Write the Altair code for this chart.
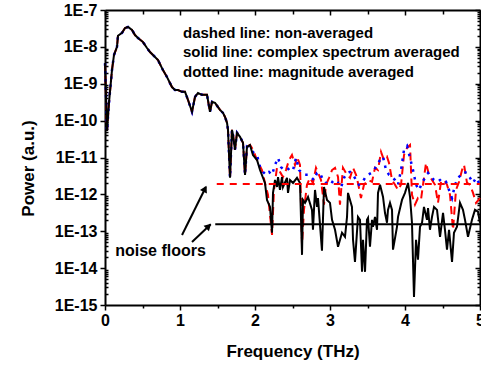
import altair as alt
import pandas as pd

# ---------------- data (frequency in THz, power as log10 value) ----------------
# common part where the three spectra coincide
sig_f = [0.000, 0.027, 0.053, 0.093, 0.120, 0.160, 0.173, 0.227, 0.267, 0.307, 0.360, 0.400,
         0.440, 0.507, 0.560, 0.600, 0.640, 0.707, 0.773, 0.827, 0.893, 0.933, 0.973, 1.027,
         1.067, 1.107, 1.160, 1.200, 1.240, 1.293, 1.360, 1.400, 1.427, 1.467, 1.533, 1.573,
         1.600, 1.627, 1.640, 1.667, 1.693, 1.707, 1.733, 1.760, 1.800, 1.840, 1.867, 1.893]
sig_e = [-8.44, -10.28, -9.52, -8.63, -8.22, -8.00, -7.70, -7.62, -7.49, -7.46, -7.54, -7.68,
         -7.76, -7.87, -8.03, -8.14, -8.22, -8.36, -8.63, -8.82, -9.09, -9.17, -9.17, -9.22,
         -9.22, -9.44, -9.76, -9.36, -9.25, -9.30, -9.30, -9.76, -9.49, -9.52, -9.71, -9.79,
         -9.90, -10.06, -10.25, -11.55, -10.25, -10.39, -10.79, -10.33, -10.44, -10.60, -11.47, -10.71]

# solid line: complex spectrum averaged
black_f = [1.933, 1.973, 2.027, 2.067, 2.133, 2.160, 2.200, 2.227, 2.240, 2.267,
           2.293, 2.307, 2.333, 2.360, 2.373, 2.427, 2.440, 2.467, 2.507, 2.560,
           2.600, 2.627, 2.640, 2.667, 2.707, 2.760, 2.773, 2.800, 2.827, 2.840,
           2.893, 2.920, 2.960, 3.000, 3.027, 3.067, 3.107, 3.160, 3.200, 3.227,
           3.240, 3.293, 3.307, 3.333, 3.373, 3.400, 3.427, 3.440, 3.467, 3.493,
           3.507, 3.533, 3.560, 3.573, 3.600, 3.627, 3.640, 3.667, 3.707, 3.733,
           3.760, 3.773, 3.800, 3.827, 3.840, 3.893, 3.907, 3.960, 4.000, 4.040,
           4.067, 4.093, 4.120, 4.147, 4.173, 4.200, 4.227, 4.253, 4.293, 4.307,
           4.333, 4.360, 4.387, 4.427, 4.467, 4.507, 4.533, 4.560, 4.587, 4.627,
           4.653, 4.693, 4.733, 4.773, 4.800, 4.840, 4.893, 4.933, 4.973, 5.000]
black_e = [-10.66, -10.93, -11.07, -11.34, -11.69, -12.15, -12.34, -13.04, -11.96, -11.61,
           -11.80, -11.53, -11.88, -11.53, -11.80, -11.55, -11.96, -11.61, -11.69, -11.55,
           -11.69, -13.64, -12.15, -12.23, -12.07, -12.42, -12.96, -11.88, -12.34, -12.10,
           -13.53, -11.80, -12.15, -12.23, -12.69, -12.96, -13.42, -13.04, -13.15, -12.61,
           -11.96, -12.34, -13.23, -13.83, -12.61, -12.69, -14.10, -13.23, -14.10, -12.69,
           -12.64, -13.42, -12.69, -12.88, -12.61, -12.96, -11.96, -11.74, -12.07, -12.50,
           -12.77, -12.42, -12.23, -12.42, -13.50, -12.88, -12.61, -12.15, -11.96, -11.69,
           -12.07, -12.77, -14.78, -13.23, -13.77, -12.88, -12.77, -12.34, -12.69, -12.37,
           -12.96, -12.61, -12.34, -12.42, -13.15, -12.50, -12.96, -13.50, -12.96, -13.83,
           -13.04, -12.88, -12.23, -12.42, -12.69, -13.15, -12.69, -12.42, -12.47, -12.77]

# dashed line: non-averaged
red_f = [1.933, 1.973, 2.027, 2.093, 2.133, 2.173, 2.200, 2.227, 2.253, 2.293,
         2.333, 2.373, 2.413, 2.453, 2.493, 2.533, 2.560, 2.600, 2.627, 2.653,
         2.693, 2.733, 2.773, 2.813, 2.853, 2.880, 2.920, 2.947, 2.987, 3.027,
         3.067, 3.107, 3.133, 3.173, 3.227, 3.267, 3.307, 3.347, 3.373, 3.413,
         3.453, 3.507, 3.560, 3.600, 3.640, 3.680, 3.720, 3.760, 3.787, 3.827,
         3.867, 3.907, 3.947, 3.987, 4.027, 4.067, 4.093, 4.133, 4.173, 4.213,
         4.240, 4.280, 4.320, 4.360, 4.400, 4.440, 4.480, 4.520, 4.560, 4.600,
         4.640, 4.680, 4.720, 4.760, 4.787, 4.827, 4.867, 4.907, 4.947, 5.000]
red_e = [-10.66, -10.79, -11.07, -11.34, -11.69, -12.01, -12.56, -13.10, -11.88, -11.28,
         -11.39, -11.53, -11.34, -11.07, -10.93, -11.20, -10.98, -11.20, -13.37, -12.42,
         -11.74, -11.55, -11.69, -11.28, -11.47, -11.61, -12.28, -11.74, -11.55, -11.34,
         -11.28, -11.53, -12.28, -11.28, -11.47, -11.55, -11.28, -11.47, -11.69, -12.10,
         -11.74, -11.61, -11.66, -11.28, -11.34, -10.85, -11.07, -10.98, -11.15, -11.61,
         -11.74, -11.88, -11.74, -10.93, -10.74, -10.66, -12.01, -12.28, -12.10, -12.15,
         -11.74, -11.15, -11.47, -11.61, -11.74, -12.23, -11.66, -11.61, -11.74, -12.01,
         -12.96, -11.88, -11.66, -11.34, -11.20, -11.69, -11.74, -11.96, -12.23, -12.10]

# dotted line: magnitude averaged
blue_f = [1.947, 1.987, 2.027, 2.067, 2.107, 2.147, 2.187, 2.227, 2.267, 2.307,
          2.347, 2.387, 2.427, 2.467, 2.507, 2.547, 2.587, 2.627, 2.667, 2.707,
          2.747, 2.787, 2.827, 2.867, 2.907, 2.947, 2.987, 3.027, 3.067, 3.107,
          3.147, 3.187, 3.227, 3.267, 3.307, 3.347, 3.387, 3.427, 3.467, 3.507,
          3.547, 3.587, 3.627, 3.667, 3.707, 3.747, 3.787, 3.827, 3.867, 3.907,
          3.947, 3.987, 4.027, 4.067, 4.107, 4.147, 4.187, 4.227, 4.267, 4.307,
          4.347, 4.387, 4.427, 4.467, 4.507, 4.547, 4.587, 4.627, 4.667, 4.707,
          4.747, 4.787, 4.827, 4.867, 4.907, 4.947, 5.000]
blue_e = [-10.79, -10.88, -10.93, -11.26, -11.39, -11.47, -11.39, -11.47, -11.20, -11.01,
          -11.26, -11.34, -11.34, -11.28, -11.34, -11.01, -11.34, -11.42, -11.47, -11.47,
          -11.53, -11.61, -11.42, -11.42, -11.61, -11.69, -11.61, -11.66, -11.74, -11.69,
          -11.82, -11.55, -11.42, -11.39, -11.47, -11.61, -11.74, -11.69, -11.55, -11.47,
          -11.42, -11.34, -11.20, -11.07, -10.98, -11.34, -11.47, -11.53, -11.61, -11.74,
          -11.34, -10.79, -10.69, -11.01, -11.34, -11.74, -11.88, -11.69, -11.55, -11.42,
          -11.53, -11.61, -11.66, -11.61, -11.69, -11.66, -11.88, -12.10, -11.74, -11.55,
          -11.47, -11.39, -11.42, -11.55, -11.69, -11.55, -11.74]

# noise floors
floor_name = ["non-averaged", "complex averaged"]
floor_start = [1.49, 1.47]
floor_end = [5.0, 5.0]
floor_power = [1.9e-12, 1.55e-13]

# annotations (data units)
legend_lines = ["dashed line: non-averaged",
                "solid line: complex spectrum averaged",
                "dotted line: magnitude averaged"]
legend_f = [1.04, 1.04, 1.04]
legend_e = [-7.62, -8.14, -8.68]
note_text = ["noise floors"]
note_f = [0.74]
note_e = [-13.67]
arrow_f0 = [1.027, 1.16]
arrow_e0 = [-13.10, -13.29]
arrow_f1 = [1.345, 1.41]
arrow_e1 = [-11.80, -12.81]
head_f = [1.333, 1.382]
head_e = [-11.85, -12.86]
head_angle = [27, 46]

x_major = [0, 1, 2, 3, 4, 5]
x_minor = [0.5, 1.5, 2.5, 3.5, 4.5]
decades = [10.0 ** k for k in range(-15, -6)]
minors = [m * 10.0 ** k for k in range(-15, -7) for m in range(2, 10)]

FONT = "Liberation Sans"


def frame(f, e, name):
    return pd.DataFrame({"f": f, "p": [10.0 ** v for v in e], "series": name})


red_df = frame(sig_f + red_f, sig_e + red_e, "non-averaged")
blue_df = frame(sig_f + blue_f, sig_e + blue_e, "magnitude averaged")
black_df = frame(sig_f + black_f, sig_e + black_e, "complex averaged")
floor_df = pd.DataFrame({"name": floor_name, "f0": floor_start, "f1": floor_end, "p": floor_power})
legend_df = pd.DataFrame({"t": legend_lines, "f": legend_f, "p": [10.0 ** v for v in legend_e]})
note_df = pd.DataFrame({"t": note_text, "f": note_f, "p": [10.0 ** v for v in note_e]})
arrow_df = pd.DataFrame({"f0": arrow_f0, "p0": [10.0 ** v for v in arrow_e0],
                         "f1": arrow_f1, "p1": [10.0 ** v for v in arrow_e1]})
head_df = pd.DataFrame({"f": head_f, "p": [10.0 ** v for v in head_e], "a": head_angle})

xs = alt.Scale(domain=[0, 5], nice=False, zero=False)
ys = alt.Scale(type="log", domain=[1e-15, 1e-7], nice=False)


def ax(orient, values, size, **kw):
    base = dict(orient=orient, values=values, tickSize=size, tickWidth=1.5, tickColor="black",
                grid=False, labels=False, domain=False, title=None)
    base.update(kw)
    return alt.Axis(**base)


frame_kw = dict(domain=True, domainColor="black", domainWidth=2)

x_main = ax("bottom", x_major, 5, labels=True, labelFont=FONT, labelFontSize=16,
            labelFontWeight="bold", labelColor="black", labelPadding=2, labelFlush=False,
            title="Frequency (THz)", titleFont=FONT, titleFontSize=17, titleFontWeight="bold",
            titleColor="black", titleBaseline="alphabetic", titleY=51, **frame_kw)
y_main = ax("left", decades, 5, labels=True, labelFont=FONT, labelFontSize=16,
            labelFontWeight="bold", labelColor="black", labelPadding=3, labelFlush=False,
            labelExpr="'1E' + round(log(datum.value) / LN10)",
            title="Power (a.u.)", titleFont=FONT, titleFontSize=17, titleFontWeight="bold",
            titleColor="black", titleBaseline="alphabetic", titleX=-72, titleY=158, **frame_kw)
x_bottom_minor = ax("bottom", x_minor, 3)
y_left_minor = ax("right", minors, 3, offset=-375)
x_top = ax("bottom", x_major, 5, offset=-295, **frame_kw)
y_right = ax("left", decades, 5, offset=-375, **frame_kw)
x_top_minor = ax("bottom", x_minor, 4, offset=-295)
y_right_minor = ax("left", minors, 3, offset=-375)

red_line = alt.Chart(red_df).mark_line(color="#ff0000", strokeWidth=2, strokeDash=[8, 5]).encode(
    x=alt.X("f:Q", scale=xs, axis=x_main), y=alt.Y("p:Q", scale=ys, axis=y_main))
blue_line = alt.Chart(blue_df).mark_line(color="#0000ff", strokeWidth=2.5, strokeDash=[2.5, 5.5]).encode(
    x=alt.X("f:Q", scale=xs, axis=x_bottom_minor), y=alt.Y("p:Q", scale=ys, axis=y_left_minor))
black_line = alt.Chart(black_df).mark_line(color="black", strokeWidth=2).encode(
    x=alt.X("f:Q", scale=xs, axis=x_top), y=alt.Y("p:Q", scale=ys, axis=y_right))

red_floor = alt.Chart(floor_df).transform_filter("datum.name == 'non-averaged'").mark_rule(
    color="#ff0000", strokeWidth=2, strokeDash=[7, 6]).encode(
    x=alt.X("f0:Q", scale=xs, axis=x_top_minor), x2="f1:Q",
    y=alt.Y("p:Q", scale=ys, axis=y_right_minor))
black_floor = alt.Chart(floor_df).transform_filter("datum.name == 'complex averaged'").mark_rule(
    color="black", strokeWidth=2).encode(
    x=alt.X("f0:Q", scale=xs, axis=None), x2="f1:Q", y=alt.Y("p:Q", scale=ys, axis=None))

arrows = alt.Chart(arrow_df).mark_rule(color="black", strokeWidth=2).encode(
    x=alt.X("f0:Q", scale=xs, axis=None), x2="f1:Q",
    y=alt.Y("p0:Q", scale=ys, axis=None), y2="p1:Q")
heads = alt.Chart(head_df).mark_point(shape="triangle-up", filled=True, size=60, color="black",
                                      opacity=1).encode(
    x=alt.X("f:Q", scale=xs, axis=None), y=alt.Y("p:Q", scale=ys, axis=None),
    angle=alt.Angle("a:Q", scale=None))

legend_text = alt.Chart(legend_df).mark_text(align="left", baseline="middle", font=FONT,
                                             fontSize=15, fontWeight="bold", color="black").encode(
    x=alt.X("f:Q", scale=xs, axis=None), y=alt.Y("p:Q", scale=ys, axis=None), text="t:N")
note = alt.Chart(note_df).mark_text(align="center", baseline="alphabetic", font=FONT,
                                    fontSize=16, fontWeight="bold", color="black").encode(
    x=alt.X("f:Q", scale=xs, axis=None), y=alt.Y("p:Q", scale=ys, axis=None), text="t:N")

chart = alt.layer(red_line, blue_line, black_line, red_floor, black_floor, arrows, heads,
                  legend_text, note).resolve_axis(x="independent", y="independent").properties(
    width=375, height=295,
    autosize=alt.AutoSizeParams(type="none"),
    padding={"left": 105, "top": 10, "right": 1, "bottom": 61},
    background="white",
).configure_view(stroke=None)

chart.save("out.html", embed_options={"renderer": "svg", "actions": False})
